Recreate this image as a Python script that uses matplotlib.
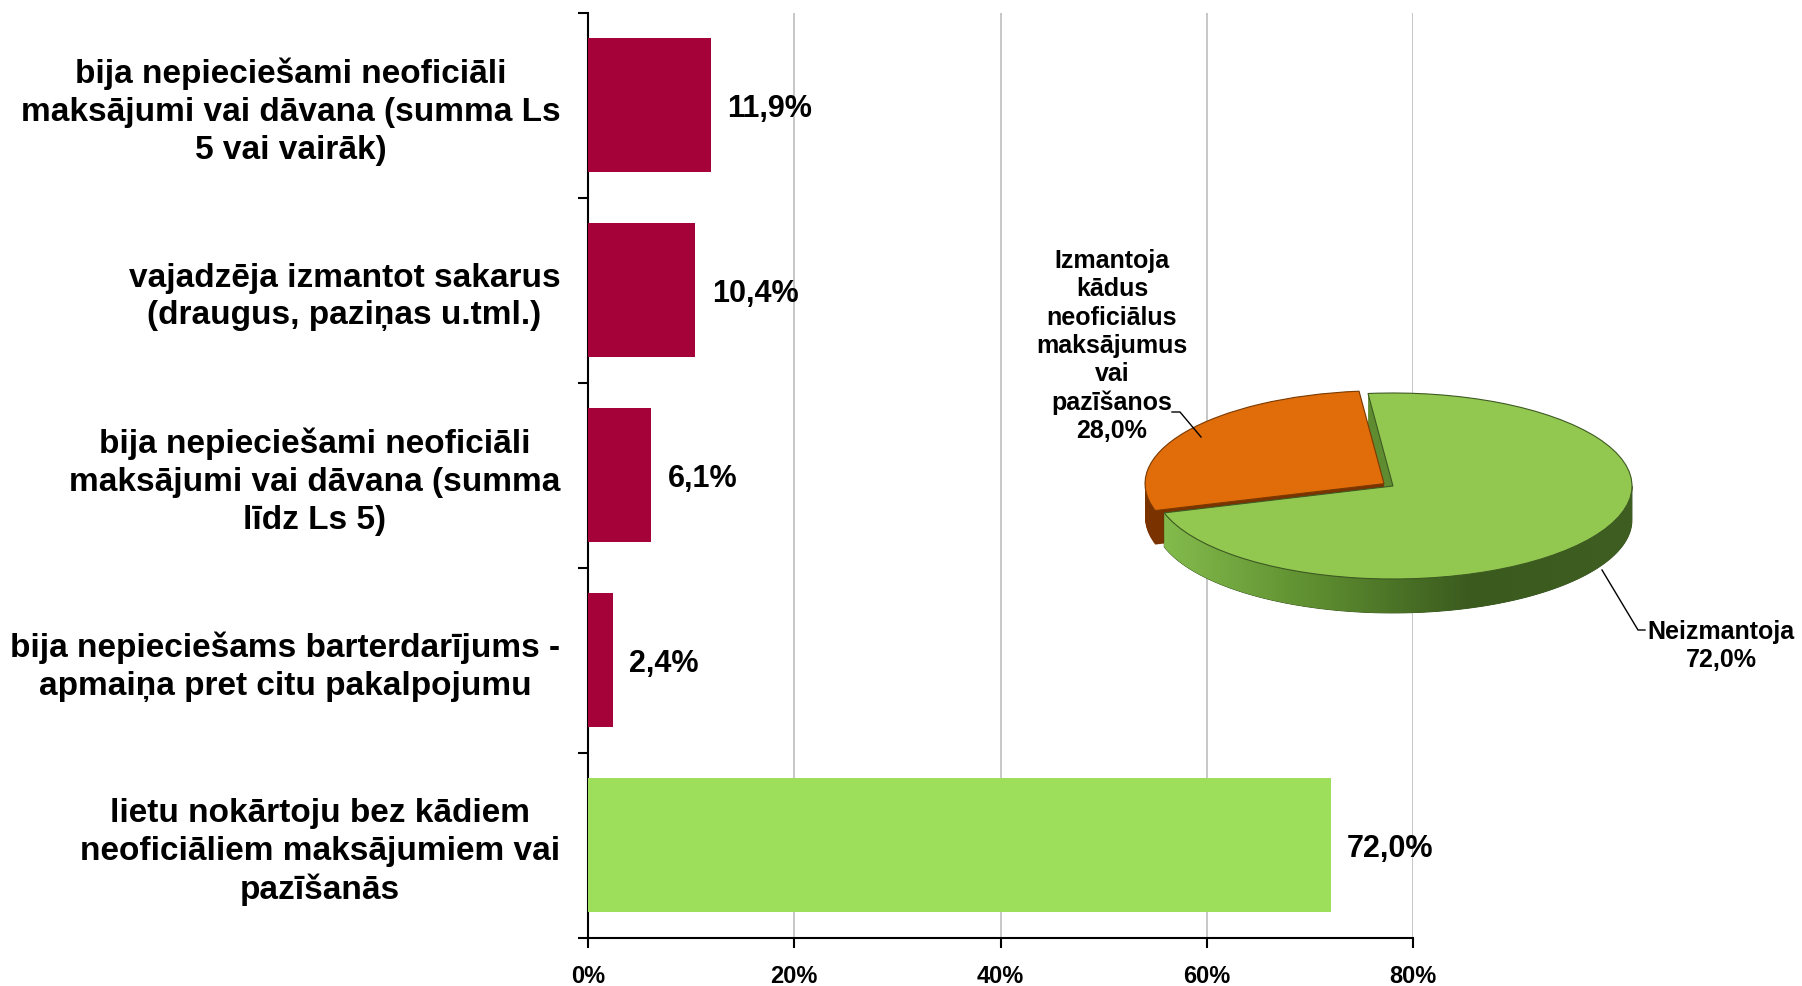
import numpy as np
import matplotlib
matplotlib.use('Agg')
import matplotlib.pyplot as plt
from matplotlib.lines import Line2D
from matplotlib.patches import Polygon
from matplotlib.colors import LinearSegmentedColormap

plt.rcParams['font.family'] = ['Liberation Sans', 'DejaVu Sans']
plt.rcParams['font.weight'] = 'bold'

categories = [
    'bija nepieciešami neoficiāli\nmaksājumi vai dāvana (summa Ls\n5 vai vairāk)',
    'vajadzēja izmantot sakarus\n(draugus, paziņas u.tml.)',
    'bija nepieciešami neoficiāli\nmaksājumi vai dāvana (summa\nlīdz Ls 5)',
    'bija nepieciešams barterdarījums -\napmaiņa pret citu pakalpojumu',
    'lietu nokārtoju bez kādiem\nneoficiāliem maksājumiem vai\npazīšanās',
]
values = [11.9, 10.4, 6.1, 2.4, 72.0]
bar_colors = ['#A6023A', '#A6023A', '#A6023A', '#A6023A', '#9DDF5B']
xticks = [0, 20, 40, 60, 80]

pie_labels = ['Neizmantoja', 'Izmantoja\nkādus\nneoficiālus\nmaksājumus\nvai\npazīšanos']
pie_values = [72.0, 28.0]
pie_top = ['#92C850', '#E06C0A']
pie_side = ['#5F8C30', '#7A3300']

W, H = 1802, 986
fig = plt.figure(figsize=(W / 100, H / 100), dpi=100)


def px(x, y):
    return (x / W, 1 - y / H)


# bars
ax = fig.add_axes([588 / W, 1 - 937.6 / H, (1413 - 588) / W, (937.6 - 12.6) / H])
y = np.arange(len(values))
ax.barh(y, values, height=0.727, color=bar_colors, zorder=3)
ax.set_xlim(0, 80)
ax.set_ylim(len(values) - 0.5, -0.5)
ax.set_xticks(xticks)
ax.set_xticklabels([f'{t}%' for t in xticks], fontsize=17, fontweight='bold')
ax.set_yticks(y)
ax.set_yticklabels(categories, fontsize=24, fontweight='bold')
for t in ax.get_yticklabels():
    t.set_multialignment('center')
    t.set_linespacing(1.28)
ax.set_yticks(np.arange(-0.5, len(values)), minor=True)
ax.tick_params(axis='y', which='major', length=0, pad=20)
ax.tick_params(axis='y', which='minor', length=7, width=1.5, color='black')
ax.tick_params(axis='x', length=7, width=1.5, pad=13)
ax.grid(axis='x', color='#BDBDBD', linewidth=1.2, zorder=0)
for s in ['top', 'right']:
    ax.spines[s].set_visible(False)
ax.spines['left'].set_linewidth(1.5)
ax.spines['bottom'].set_linewidth(1.5)

for i, v in enumerate(values):
    ax.annotate(f'{v:.1f}%'.replace('.', ','), xy=(v, i), xytext=(12, -3),
                textcoords='offset points', va='center', ha='left',
                fontsize=22, fontweight='bold')

# pie (fake 3D)
cx, cy, a, b = 1393, 486, 239, 93
box = (1080, 360, 1720, 620)
ax2 = fig.add_axes([box[0] / W, 1 - box[3] / H, (box[2] - box[0]) / W, (box[3] - box[1]) / H])
ax2.axis('off')
depth = 34 / b
start = 96
explode = [0, 0.045]
n = 30
for k in range(n):
    d = depth * (1 - k / n)
    ax2.pie(pie_values, colors=pie_side, startangle=start, counterclock=False,
            explode=explode, center=(0, -d), radius=1,
            wedgeprops=dict(linewidth=0))

# gradient on green front side
end = start - pie_values[0] / 100 * 360
th = np.radians(np.linspace(end, 0, 100))
top_pts = np.c_[np.cos(th), np.sin(th)]
bot_pts = np.c_[np.cos(th[::-1]), np.sin(th[::-1]) - depth]
band = Polygon(np.vstack([top_pts, bot_pts]), closed=True, facecolor='none', edgecolor='#2E4A18', linewidth=0.6)
ax2.add_patch(band)
cmap = LinearSegmentedColormap.from_list('g', ['#86BE4E', '#5E8E30', '#3A5A1E', '#3E5E22'])
grad = np.linspace(0, 1, 256).reshape(1, -1)
im = ax2.imshow(grad, cmap=cmap, extent=[-1, 1, -1 - depth, 0], aspect='auto', zorder=1.5)
im.set_clip_path(band)

wedges, _ = ax2.pie(pie_values, colors=pie_top, startangle=start, counterclock=False,
                    explode=explode, center=(0, 0), radius=1)
wedges[0].set_edgecolor('#3E5A22')
wedges[1].set_edgecolor('#7A3A00')
for w in wedges:
    w.set_linewidth(0.8)
    w.set_zorder(3)
ax2.set_aspect('auto')
ax2.set_xlim((box[0] - cx) / a, (box[2] - cx) / a)
ax2.set_ylim(-(box[3] - cy) / b, (cy - box[1]) / b)

# pie labels
fig.text(*px(1721, 646), f'{pie_labels[0]}\n{pie_values[0]:.1f}%'.replace('.', ','),
         ha='center', va='center', fontsize=18, fontweight='bold', linespacing=1.22)
fig.text(*px(1112, 346), f'{pie_labels[1]}\n{pie_values[1]:.1f}%'.replace('.', ','),
         ha='center', va='center', fontsize=18, fontweight='bold', linespacing=1.22)
fig.add_artist(Line2D([px(1172, 412)[0], px(1180, 412)[0], px(1201, 437)[0]],
                      [px(1172, 412)[1], px(1180, 412)[1], px(1201, 437)[1]],
                      color='black', linewidth=1))
fig.add_artist(Line2D([px(1602, 570)[0], px(1638, 630)[0], px(1645, 630)[0]],
                      [px(1602, 570)[1], px(1638, 630)[1], px(1645, 630)[1]],
                      color='black', linewidth=1))

fig.savefig('out.png', dpi=100)
